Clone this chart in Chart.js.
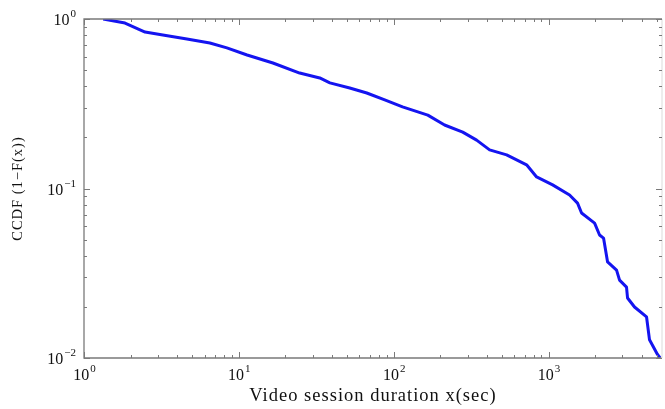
<!DOCTYPE html>
<html>
<head>
<meta charset="utf-8">
<script src="https://cdn.jsdelivr.net/npm/chart.js@4.4.1/dist/chart.umd.min.js"></script>
<style>
  html, body { margin: 0; padding: 0; background: #fff; }
  #wrap { width: 665px; height: 409px; }
</style>
</head>
<body>
<div id="wrap"><canvas id="ccdf"></canvas></div>
<script>
// session duration (sec) and CCDF
const durations  = [1.33, 1.84, 2.48, 3.23, 4.62, 6.5, 8.37, 11.3, 16.6, 24.7, 33.3, 38.7, 52, 67, 87.5, 114, 166, 213, 279, 343, 416, 536, 721, 837, 1062, 1366, 1538, 1633, 1982, 2134, 2264, 2404, 2747, 2873, 3186, 3235, 3589, 4290, 4485, 5050, 5250];
const ccdfValues = [1.0, 0.946, 0.838, 0.805, 0.762, 0.722, 0.675, 0.613, 0.55, 0.48, 0.449, 0.42, 0.392, 0.366, 0.333, 0.303, 0.271, 0.237, 0.215, 0.193, 0.169, 0.158, 0.138, 0.117, 0.105, 0.0916, 0.082, 0.0717, 0.0625, 0.0532, 0.051, 0.0369, 0.033, 0.0288, 0.0262, 0.0226, 0.02, 0.0175, 0.0128, 0.0105, 0.01];

const xDecades   = [1, 10, 100, 1000];
const xExponents = ['0', '1', '2', '3'];
const yDecades   = [0.01, 0.1, 1];
const yExponents = ['\u22122', '\u22121', '0'];

const xTitle = 'Video session duration x(sec)';
const yTitle = 'CCDF (1\u2212F(x))';

const SERIF = '"Liberation Serif", "DejaVu Serif", serif';
const LINE_BLUE = '#1414f0';
const AXIS_GREY = '#7a7a7a';

// the original figure is a bit stretched sideways, so widen the axis titles
const titleSpacing = {
  id: 'titleSpacing',
  beforeDraw(chart) { chart.ctx.letterSpacing = '1px'; },
  beforeDatasetsDraw(chart) { chart.ctx.letterSpacing = '0px'; }
};

// box, inward minor/major ticks and 10^n labels, matlab style
const frameTicks = {
  id: 'frameTicks',
  afterDraw(chart) {
    const { ctx, chartArea: a, scales } = chart;
    const xs = scales.x, ys = scales.y;
    ctx.save();
    ctx.lineWidth = 1.3;
    ctx.strokeStyle = AXIS_GREY;
    ctx.beginPath();
    ctx.moveTo(a.right, a.top); ctx.lineTo(a.left, a.top);
    ctx.lineTo(a.left, a.bottom); ctx.lineTo(a.right, a.bottom);
    ctx.stroke();
    ctx.strokeStyle = '#e4e4e4';
    ctx.beginPath(); ctx.moveTo(a.right, a.top); ctx.lineTo(a.right, a.bottom); ctx.stroke();

    ctx.strokeStyle = AXIS_GREY;
    ctx.lineWidth = 1;
    ctx.beginPath();
    for (let e = 0; e <= 3; e++) {
      for (let m = 1; m <= 9; m++) {
        const v = m * Math.pow(10, e);
        if (v < xs.min || v > xs.max) continue;
        const px = Math.round(xs.getPixelForValue(v)) + 0.5;
        const len = m === 1 ? 6 : 3;
        ctx.moveTo(px, a.bottom); ctx.lineTo(px, a.bottom - len);
        ctx.moveTo(px, a.top);    ctx.lineTo(px, a.top + len);
      }
    }
    for (let e = -2; e <= 0; e++) {
      for (let m = 1; m <= 9; m++) {
        const v = m * Math.pow(10, e);
        if (v < ys.min || v > ys.max) continue;
        const py = Math.round(ys.getPixelForValue(v)) + 0.5;
        const len = m === 1 ? 6 : 3;
        ctx.moveTo(a.left, py);  ctx.lineTo(a.left + len, py);
        ctx.moveTo(a.right, py); ctx.lineTo(a.right - len, py);
      }
    }
    ctx.stroke();

    ctx.fillStyle = '#111';
    ctx.textBaseline = 'alphabetic';
    const big = '16px ' + SERIF, small = '11px ' + SERIF;
    xDecades.forEach((v, i) => {
      const px = xs.getPixelForValue(v);
      ctx.font = big;  const w1 = ctx.measureText('10').width;
      ctx.font = small; const w2 = ctx.measureText(xExponents[i]).width;
      const x0 = px - (w1 + w2) / 2;
      ctx.font = big;  ctx.textAlign = 'left'; ctx.fillText('10', x0, a.bottom + 22);
      ctx.font = small; ctx.fillText(xExponents[i], x0 + w1 + 1, a.bottom + 14);
    });
    yDecades.forEach((v, i) => {
      const py = ys.getPixelForValue(v);
      ctx.font = small; const w2 = ctx.measureText(yExponents[i]).width;
      const xr = a.left - 8;
      ctx.textAlign = 'right';
      ctx.fillText(yExponents[i], xr, py - 2);
      ctx.font = big; ctx.fillText('10', xr - w2 - 1, py + 6);
    });
    ctx.restore();
  }
};

new Chart(document.getElementById('ccdf'), {
  type: 'scatter',
  data: {
    datasets: [{
      data: durations.map((d, i) => ({ x: d, y: ccdfValues[i] })),
      showLine: true,
      borderColor: LINE_BLUE,
      backgroundColor: LINE_BLUE,
      borderWidth: 3,
      pointRadius: 0,
      tension: 0,
      borderJoinStyle: 'round',
      fill: false
    }]
  },
  options: {
    responsive: true,
    maintainAspectRatio: false,
    animation: false,
    layout: { padding: { top: 19, right: 3, left: 0, bottom: 0 } },
    plugins: { legend: { display: false }, tooltip: { enabled: false } },
    scales: {
      x: {
        type: 'logarithmic', min: 1, max: 5400,
        grid: { display: false }, border: { display: false },
        ticks: { display: false },
        title: { display: true, text: xTitle, color: '#111', font: { family: SERIF, size: 18.5 }, padding: { top: 0, bottom: 2 } },
        afterFit: (s) => { s.height = 51; }
      },
      y: {
        type: 'logarithmic', min: 0.01, max: 1,
        grid: { display: false }, border: { display: false },
        ticks: { display: false },
        title: { display: true, text: yTitle, color: '#111', font: { family: SERIF, size: 14.5 }, padding: { top: 9, bottom: 0 } },
        afterFit: (s) => { s.width = 84; }
      }
    }
  },
  plugins: [titleSpacing, frameTicks]
});
</script>
</body>
</html>
